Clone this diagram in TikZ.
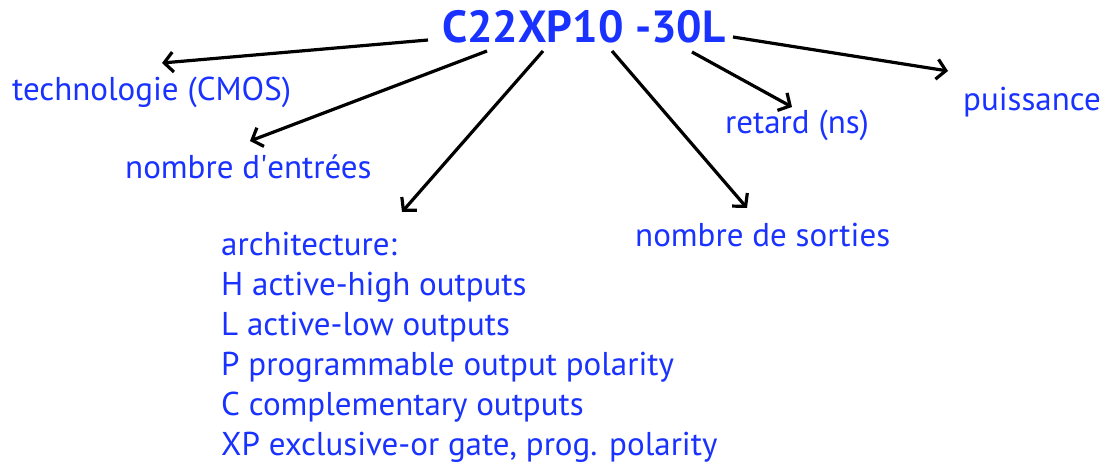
\documentclass[tikz,border=0pt]{standalone}
\usepackage{fontspec}
\setmainfont{PT Sans}
\usetikzlibrary{arrows.meta}
\definecolor{labelblue}{RGB}{25,50,255}
\tikzset{
  lbl/.style={anchor=base west, inner sep=0pt, text=labelblue, font=\fontsize{33}{40}\selectfont},
  code/.style={anchor=base west, inner sep=0pt, text=labelblue, font=\fontsize{45}{50}\bfseries\selectfont},
  ptr/.style={line width=3.2pt, -{Straight Barb[length=9pt,width=20pt,line width=3.2pt]}},
}
\begin{document}
\begin{tikzpicture}[x=1pt,y=-1pt]
\useasboundingbox[fill=white] (0,0) rectangle (1106,464);

% part number
\node[code] (code) at (442,42) {C22XP10 -30L};

% field descriptions
\node[lbl] (tech) at (12,100) {technologie (CMOS)};
\node[lbl] (nin) at (125,178) {nombre d\textquotesingle entrées};
\node[lbl, align=left, anchor=north west] (arch) at (221,232) {architecture:\\H active-high outputs\\L active-low outputs\\P programmable output polarity\\C complementary outputs\\XP exclusive-or gate, prog. polarity};
\node[lbl] (nout) at (635,246) {nombre de sorties};
\node[lbl] (delay) at (725,133) {retard (ns)};
\node[lbl] (power) at (963,110) {puissance};

% arrow start points on the part number, end points above each description
\coordinate (s1) at (428,40);
\coordinate (e1) at (162,63);
\coordinate (s2) at (487,51);
\coordinate (e2) at (250,141);
\coordinate (s3) at (543,51);
\coordinate (e3) at (402,212);
\coordinate (s4) at (612,51);
\coordinate (e4) at (747,208);
\coordinate (s5) at (692,52);
\coordinate (e5) at (792,107);
\coordinate (s6) at (733,37);
\coordinate (e6) at (948,71);

\draw[ptr] (s1) -- (e1);
\draw[ptr] (s2) -- (e2);
\draw[ptr] (s3) -- (e3);
\draw[ptr] (s4) -- (e4);
\draw[ptr] (s5) -- (e5);
\draw[ptr] (s6) -- (e6);
\end{tikzpicture}
\end{document}
